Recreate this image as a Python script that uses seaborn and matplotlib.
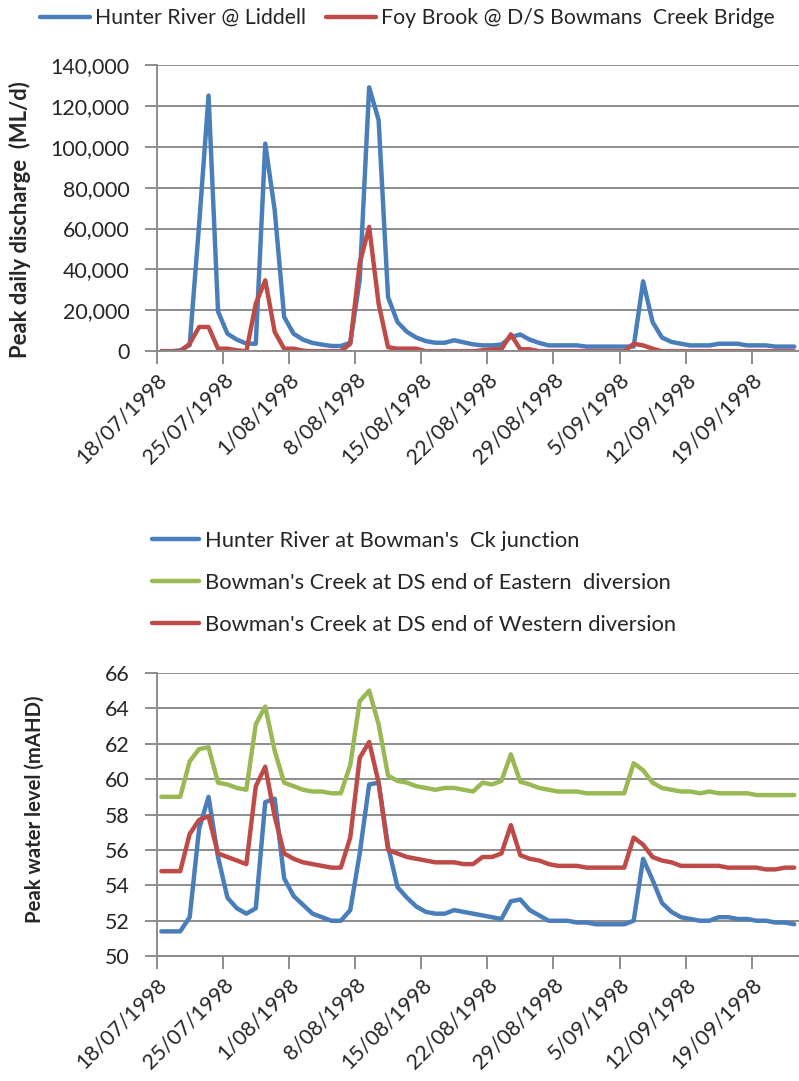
import numpy as np
import pandas as pd
import matplotlib
matplotlib.use("Agg")
import matplotlib.pyplot as plt
from matplotlib.ticker import FuncFormatter, MultipleLocator
import seaborn as sns

# ---------------- data ----------------
start_date = "1998-07-18"
n_days = 68

liddell = [0, 0, 500, 3000, 62000, 125000, 19500, 8600, 5700, 3800,
           3700, 101500, 69000, 16800, 8600, 5700, 4100, 3300, 2600, 2600,
           4200, 35000, 129000, 113000, 26500, 14300, 9500, 6700, 5000, 4200,
           4200, 5400, 4400, 3400, 2900, 2900, 3300, 7000, 8200, 5700,
           4100, 2900, 2900, 2900, 2900, 2300, 2300, 2300, 2300, 2300,
           2300, 34200, 14300, 6700, 4600, 3700, 2900, 2900, 2900, 3700,
           3700, 3700, 2900, 2900, 2900, 2300, 2300, 2300]

foy_brook = [0, 0, 0, 3700, 11900, 11900, 1300, 1300, 500, 0,
             23300, 34700, 9500, 1300, 1300, 300, 0, 0, 0, 0,
             3700, 43000, 60800, 23300, 2000, 1300, 1300, 1300, 0, 0,
             0, 0, 0, 0, 500, 1000, 1000, 8300, 1000, 1000,
             0, 0, 0, 0, 0, 0, 0, 0, 0, 0,
             3700, 2900, 1300, 0, 0, 0, 0, 0, 0, 0,
             0, 0, 0, 0, 0, 0, 0, 0]

hunter_bowman = [51.4, 51.4, 51.4, 52.2, 57.2, 59.0, 55.6, 53.3, 52.7, 52.4,
                 52.7, 58.7, 58.9, 54.4, 53.4, 52.9, 52.4, 52.2, 52.0, 52.0,
                 52.6, 55.8, 59.7, 59.8, 56.2, 53.9, 53.3, 52.8, 52.5, 52.4,
                 52.4, 52.6, 52.5, 52.4, 52.3, 52.2, 52.1, 53.1, 53.2, 52.6,
                 52.3, 52.0, 52.0, 52.0, 51.9, 51.9, 51.8, 51.8, 51.8, 51.8,
                 52.0, 55.5, 54.3, 53.0, 52.5, 52.2, 52.1, 52.0, 52.0, 52.2,
                 52.2, 52.1, 52.1, 52.0, 52.0, 51.9, 51.9, 51.8]

eastern = [59.0, 59.0, 59.0, 61.0, 61.7, 61.8, 59.8, 59.7, 59.5, 59.4,
           63.1, 64.1, 61.6, 59.8, 59.6, 59.4, 59.3, 59.3, 59.2, 59.2,
           60.8, 64.4, 65.0, 63.1, 60.2, 59.9, 59.8, 59.6, 59.5, 59.4,
           59.5, 59.5, 59.4, 59.3, 59.8, 59.7, 59.9, 61.4, 59.85, 59.7,
           59.5, 59.4, 59.3, 59.3, 59.3, 59.2, 59.2, 59.2, 59.2, 59.2,
           60.9, 60.5, 59.8, 59.5, 59.4, 59.3, 59.3, 59.2, 59.3, 59.2,
           59.2, 59.2, 59.2, 59.1, 59.1, 59.1, 59.1, 59.1]

western = [54.8, 54.8, 54.8, 56.9, 57.7, 57.9, 55.8, 55.6, 55.4, 55.2,
           59.6, 60.7, 57.9, 55.8, 55.5, 55.3, 55.2, 55.1, 55.0, 55.0,
           56.7, 61.2, 62.1, 59.8, 56.0, 55.8, 55.6, 55.5, 55.4, 55.3,
           55.3, 55.3, 55.2, 55.2, 55.6, 55.6, 55.8, 57.4, 55.7, 55.5,
           55.4, 55.2, 55.1, 55.1, 55.1, 55.0, 55.0, 55.0, 55.0, 55.0,
           56.7, 56.3, 55.6, 55.4, 55.3, 55.1, 55.1, 55.1, 55.1, 55.1,
           55.0, 55.0, 55.0, 55.0, 54.9, 54.9, 55.0, 55.0]

top_names = ["Hunter River @ Liddell", "Foy Brook @ D/S Bowmans  Creek Bridge"]
bot_names = ["Hunter River at Bowman's  Ck junction",
             "Bowman's Creek at DS end of Eastern  diversion",
             "Bowman's Creek at DS end of Western diversion"]
tick_labels = ["18/07/1998", "25/07/1998", "1/08/1998", "8/08/1998", "15/08/1998",
               "22/08/1998", "29/08/1998", "5/09/1998", "12/09/1998", "19/09/1998"]
top_ylabel = "Peak daily discharge  (ML/d)"
bot_ylabel = "Peak water level (mAHD)"

top_colors = ["#4A7EBB", "#BE4B48"]
bot_colors = ["#4A7EBB", "#98B954", "#BE4B48"]

# ---------------- frames ----------------
dates = pd.date_range(start_date, periods=n_days, freq="D")
pos = dates + pd.Timedelta(hours=12)  # points centred in each day band
df_top = pd.DataFrame({"date": np.tile(pos, 2),
                       "value": liddell + foy_brook,
                       "series": np.repeat(top_names, n_days)})
df_bot = pd.DataFrame({"date": np.tile(pos, 3),
                       "value": hunter_bowman + eastern + western,
                       "series": np.repeat(bot_names, n_days)})

# ---------------- style ----------------
sns.set_style("white")
FAMILY = ["Lato", "DejaVu Sans"]
plt.rcParams["font.family"] = FAMILY
GRID = "#8C8C8C"

fig = plt.figure(figsize=(7.99, 10.81), dpi=100)
renderer = fig.canvas.get_renderer()


def fit_size(s, target_px, weight="normal"):
    t = fig.text(0, 0, s, fontsize=10, fontweight=weight)
    w = t.get_window_extent(renderer).width
    t.remove()
    return 10.0 * target_px / w


FS_LEG = min(fit_size(top_names[0], 220), fit_size(top_names[1], 392))
FS_LEG2 = fit_size(bot_names[2], 472)
FS_Y = fit_size("140,000", 79)
FS_X = fit_size(tick_labels[0], 118)
FS_YL1 = fit_size(top_ylabel, 277, "bold")
FS_YL2 = fit_size(bot_ylabel, 228, "bold")

ax1 = fig.add_axes([0.196, 0.675, 0.804, 0.265])
ax2 = fig.add_axes([0.196, 0.1155, 0.804, 0.262])


def style_axis(ax):
    ax.set_xlim(dates[0], dates[0] + pd.Timedelta(days=n_days))
    tick_dates = dates[::7][:len(tick_labels)]
    ax.set_xticks(tick_dates)
    ax.set_xticklabels(tick_labels, rotation=45, ha="right",
                       rotation_mode="anchor", fontsize=FS_X)
    ax.grid(axis="y", color=GRID, linewidth=1.4)
    ax.set_axisbelow(True)
    for s in ["top", "right"]:
        ax.spines[s].set_visible(False)
    for s in ["left", "bottom"]:
        ax.spines[s].set_color(GRID)
        ax.spines[s].set_linewidth(1.4)
    ax.tick_params(axis="both", which="major", direction="out", length=9,
                   width=1.4, color=GRID, bottom=True, left=True)
    ax.tick_params(axis="y", labelsize=FS_Y, pad=10.5)
    ax.tick_params(axis="x", labelsize=FS_X, pad=4)
    ax.set_xlabel("")


sns.lineplot(data=df_top, x="date", y="value", hue="series", hue_order=top_names,
             palette=top_colors, linewidth=3.2, ax=ax1, legend=True)
h1, l1 = ax1.get_legend_handles_labels()
ax1.get_legend().remove()
style_axis(ax1)
ax1.set_ylim(0, 140000)
ax1.yaxis.set_major_locator(MultipleLocator(20000))
ax1.yaxis.set_major_formatter(FuncFormatter(lambda v, p: f"{int(v):,}"))
ax1.set_ylabel(top_ylabel, fontsize=FS_YL1, fontweight="bold")
ax1.yaxis.set_label_coords(-0.196, 0.46)

sns.lineplot(data=df_bot, x="date", y="value", hue="series", hue_order=bot_names,
             palette=bot_colors, linewidth=3.2, ax=ax2, legend=True)
h2, l2 = ax2.get_legend_handles_labels()
ax2.get_legend().remove()
style_axis(ax2)
ax2.set_ylim(50, 66)
ax2.yaxis.set_major_locator(MultipleLocator(2))
ax2.set_ylabel(bot_ylabel, fontsize=FS_YL2, fontweight="bold")
ax2.yaxis.set_label_coords(-0.174, 0.52)

for h in h1 + h2:
    h.set_linewidth(3.2)

em1 = FS_LEG * 100 / 72.0
fig.legend(h1, l1, loc="center left", bbox_to_anchor=(40 / 799, 1 - 18 / 1081),
           ncol=2, frameon=False, fontsize=FS_LEG, handlelength=50 / em1,
           handletextpad=5 / em1, columnspacing=20 / em1, borderaxespad=0,
           borderpad=0)
em2 = FS_LEG2 * 100 / 72.0
fig.legend(h2, l2, loc="center left", bbox_to_anchor=(152 / 799, 1 - 583 / 1081),
           ncol=1, frameon=False, fontsize=FS_LEG2, handlelength=47 / em2,
           handletextpad=6 / em2, labelspacing=(44 - em2) / em2, borderaxespad=0,
           borderpad=0)

fig.savefig("out.png", dpi=100)
